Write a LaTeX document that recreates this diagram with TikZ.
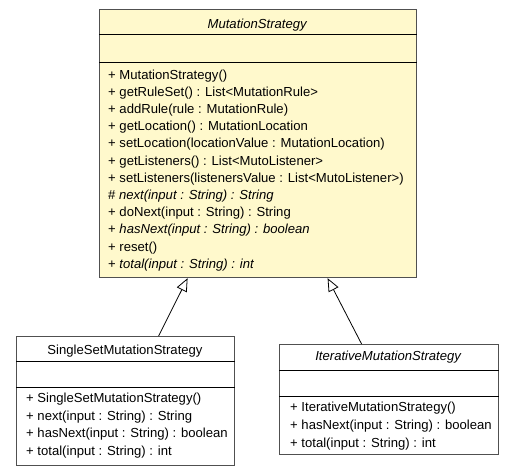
\documentclass[tikz,border=0pt]{standalone}
\usepackage{fontspec}
\setmainfont{Liberation Sans}
\usetikzlibrary{arrows.meta,calc}
\definecolor{cream}{RGB}{255,249,204}
\definecolor{edge}{RGB}{80,80,80}
\begin{document}
\begin{tikzpicture}[x=1pt,y=-1pt,
  every node/.style={font=\fontsize{13.1}{15}\selectfont, inner sep=0pt},
  umlbox/.style={draw=edge, line width=1.2pt, anchor=north west, minimum width=#1},
  sepline/.style={draw=black, line width=0.9pt},
  txt/.style={anchor=base west},
  ttl/.style={anchor=base},
  gen/.style={draw=black, line width=0.8pt, -{Triangle[open, length=13pt, width=11pt, fill=white]}}]
\useasboundingbox (0,0) rectangle (515,475);
% main class
\node[umlbox=317pt, minimum height=268pt, fill=cream] (main) at (99,9) {};
\draw[sepline] ([yshift=-25pt]main.north west) -- ([yshift=-25pt]main.north east);
\draw[sepline] ([yshift=-53pt]main.north west) -- ([yshift=-53pt]main.north east);
\node[ttl] (mt) at (257.5,28) {\textit{MutationStrategy}};
\node[txt] (m1) at (108,79.0) {+ MutationStrategy()};
\node[txt] (m2) at (108,96.2) {+ getRuleSet() : List<MutationRule>};
\node[txt] (m3) at (108,113.4) {+ addRule(rule : MutationRule)};
\node[txt] (m4) at (108,130.6) {+ getLocation() : MutationLocation};
\node[txt] (m5) at (108,147.8) {+ setLocation(locationValue : MutationLocation)};
\node[txt] (m6) at (108,165.0) {+ getListeners() : List<MutoListener>};
\node[txt] (m7) at (108,182.2) {+ setListeners(listenersValue : List<MutoListener>)};
\node[txt] (m8) at (108,199.4) {\# \textit{next(input : String) : String}};
\node[txt] (m9) at (108,216.6) {+ doNext(input : String) : String};
\node[txt] (m10) at (108,233.8) {+ \textit{hasNext(input : String) : boolean}};
\node[txt] (m11) at (108,251.0) {+ reset()};
\node[txt] (m12) at (108,268.2) {+ \textit{total(input : String) : int}};
% single set
\node[umlbox=218pt, minimum height=129pt, fill=white] (single) at (16,336) {};
\draw[sepline] ([yshift=-25pt]single.north west) -- ([yshift=-25pt]single.north east);
\draw[sepline] ([yshift=-51pt]single.north west) -- ([yshift=-51pt]single.north east);
\node[ttl] (st) at (125,354) {SingleSetMutationStrategy};
\node[txt] (s1) at (26,402.7) {+ SingleSetMutationStrategy()};
\node[txt] (s2) at (26,420.3) {+ next(input : String) : String};
\node[txt] (s3) at (26,437.9) {+ hasNext(input : String) : boolean};
\node[txt] (s4) at (26,455.5) {+ total(input : String) : int};
% iterative
\node[umlbox=219pt, minimum height=110pt, fill=white] (iter) at (279,344) {};
\draw[sepline] ([yshift=-26.5pt]iter.north west) -- ([yshift=-26.5pt]iter.north east);
\draw[sepline] ([yshift=-52pt]iter.north west) -- ([yshift=-52pt]iter.north east);
\node[ttl] (it) at (388.5,360.7) {\textit{IterativeMutationStrategy}};
\node[txt] (i1) at (290,411.7) {+ IterativeMutationStrategy()};
\node[txt] (i2) at (290,429.6) {+ hasNext(input : String) : boolean};
\node[txt] (i3) at (290,447.5) {+ total(input : String) : int};
% generalizations
\draw[gen] ([xshift=33pt]single.north) -- ([xshift=-70.5pt]main.south);
\draw[gen] ([xshift=-27.5pt]iter.north) -- ([xshift=69.5pt]main.south);
\end{tikzpicture}
\end{document}
